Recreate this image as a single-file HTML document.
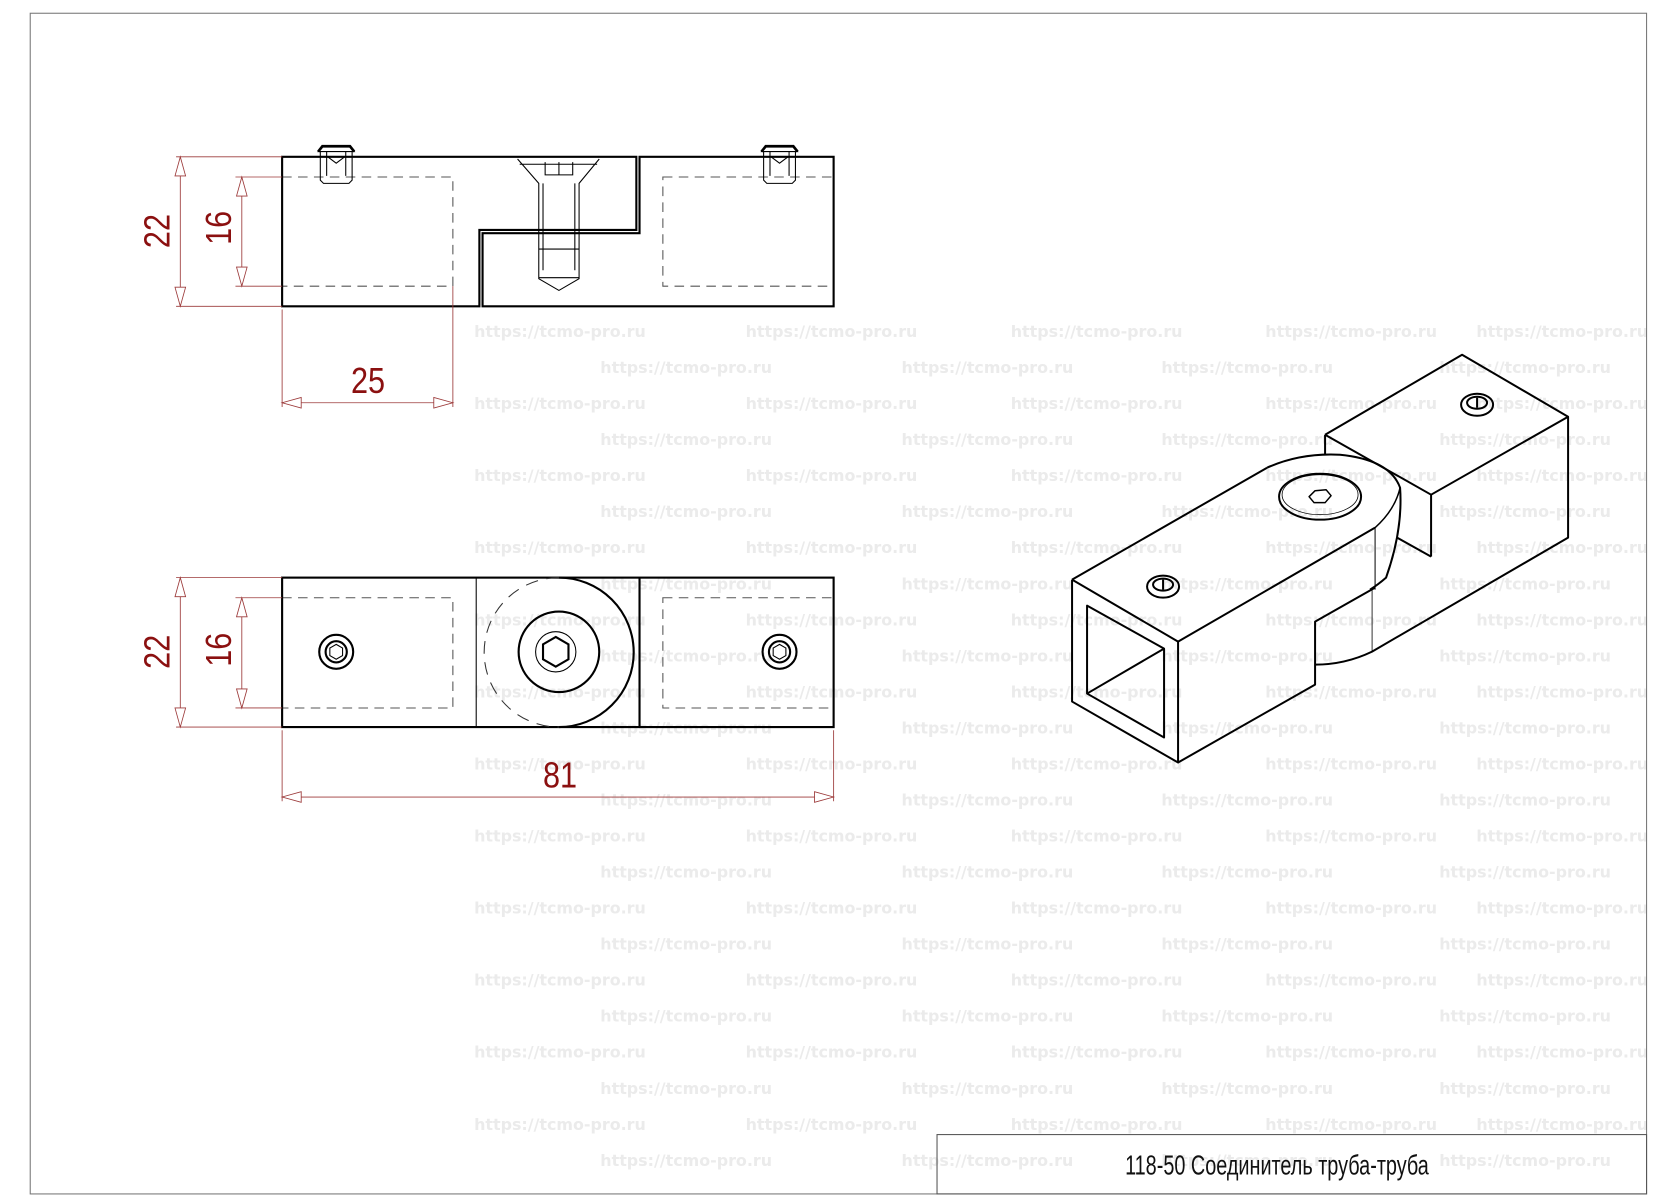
<!DOCTYPE html>
<html><head><meta charset="utf-8"><style>
html,body{margin:0;padding:0;background:#fff;}
svg{display:block;}
.wm{font-family:"DejaVu Sans","Liberation Sans",sans-serif;font-weight:bold;font-size:15px;fill:#ebebeb;}
.d{stroke:#9c3a3a;stroke-width:0.8;fill:none;}
.ah{stroke:#9c3a3a;stroke-width:0.8;fill:#fff;}
.dt{font-family:"Liberation Sans",sans-serif;font-size:34px;fill:#8b1010;}
.k{stroke:#000;stroke-width:2;fill:none;}
.t{stroke:#000;stroke-width:1;fill:none;}
.h{stroke:#555;stroke-width:1;fill:none;stroke-dasharray:9,6;}
</style></head><body>
<svg width="1663" height="1204" viewBox="0 0 1568 1136" preserveAspectRatio="none" xmlns="http://www.w3.org/2000/svg">
<rect x="0" y="0" width="1568" height="1136" fill="#fff"/>
<g class="wm">
<g id="r1">
<text x="447" y="318">https://tcmo-pro.ru</text><text x="703" y="318">https://tcmo-pro.ru</text><text x="953" y="318">https://tcmo-pro.ru</text><text x="1193" y="318">https://tcmo-pro.ru</text><text x="1392" y="318">https://tcmo-pro.ru</text>
<text x="566" y="352">https://tcmo-pro.ru</text><text x="850" y="352">https://tcmo-pro.ru</text><text x="1095" y="352">https://tcmo-pro.ru</text><text x="1357" y="352">https://tcmo-pro.ru</text>
</g>
<use href="#r1" y="68"/><use href="#r1" y="136"/><use href="#r1" y="204"/><use href="#r1" y="272"/><use href="#r1" y="340"/><use href="#r1" y="408"/><use href="#r1" y="476"/><use href="#r1" y="544"/><use href="#r1" y="612"/><use href="#r1" y="680"/><use href="#r1" y="748"/>
</g>
<rect x="28.5" y="12.5" width="1524" height="1114" fill="none" stroke="#777" stroke-width="1"/>
<rect x="883.5" y="1070.5" width="669" height="56" fill="none" stroke="#555" stroke-width="1"/>
<text x="1204" y="1108" text-anchor="middle" font-size="26" fill="#111" style="font-family:'Liberation Sans',sans-serif" transform="translate(1204,0) scale(0.72,1) translate(-1204,0)">118-50 Соединитель труба-труба</text>

<!-- TOP VIEW -->
<rect x="266" y="167" width="161" height="103" class="h"/>
<rect x="625" y="167" width="161" height="103" class="h"/>
<path class="k" d="M266,148 H600 V217 H452 V289 H266 Z"/>
<path class="k" d="M603,148 H786 V289 H455 V220 H603 Z"/>
<g class="t"><path d="M302,143 V170 L305,173 H329 L332,170 V143 M300,143 L304,138 H330 L334,143 Z M308,143 V166 M326,143 V166 M309,148 L317,154 L325,148"/></g>
<path d="M300,143 L304,138 H330 L334,143" stroke="#000" stroke-width="2.5" fill="none"/>
<g class="t"><path d="M720,143 V170 L723,173 H747 L750,170 V143 M718,143 L722,138 H748 L752,143 Z M726,143 V166 M744,143 V166 M727,148 L735,154 L743,148"/></g>
<path d="M718,143 L722,138 H748 L752,143" stroke="#000" stroke-width="2.5" fill="none"/>
<g class="t"><path d="M488,150 L508,173 V263 L527,274 L546,263 V173 L565,150 M490,155 H563 M514,153 V165 H540 V153 M527,153 V165 M512,173 V255 M542,173 V255 M508,235 H546 M508,262 H546"/></g>
<path class="d" d="M166,148 H266 M166,289 H266 M222,167 H266 M222,270 H266 M170,148 V289 M228,167 V270 M266,292 V384 M427,270 V384 M266,380 H427"/>
<path class="ah" d="M170,148 L165,166 L175,166 Z M170,289 L165,271 L175,271 Z M228,167 L223,185 L233,185 Z M228,270 L223,252 L233,252 Z M266,380 L284,375 L284,385 Z M427,380 L409,375 L409,385 Z"/>
<text class="dt" transform="translate(160,218) rotate(-90) scale(0.85,1)" text-anchor="middle">22</text>
<text class="dt" transform="translate(218,215) rotate(-90) scale(0.85,1)" text-anchor="middle">16</text>
<text class="dt" transform="translate(347,371) scale(0.85,1)" text-anchor="middle">25</text>

<!-- FRONT VIEW -->
<rect x="266" y="564" width="161" height="104" class="h"/>
<rect x="625" y="564" width="161" height="104" class="h"/>
<rect x="266" y="545" width="520" height="141" class="k"/>
<line x1="449" y1="545" x2="449" y2="686" class="t"/>
<line x1="603" y1="545" x2="603" y2="686" class="k"/>
<path class="k" d="M527,545 A70,70 0 0 1 527,686"/>
<path d="M527,545 A70,70 0 0 0 527,686" stroke="#333" stroke-width="1" fill="none" stroke-dasharray="12,8"/>
<circle cx="527" cy="615" r="38" class="k"/>
<circle cx="524" cy="615" r="19" class="t"/>
<polygon points="524,601 536,608 536,622 524,629 512,622 512,608" class="k" stroke-width="1.5"/>
<circle cx="317" cy="615" r="16" class="k"/><circle cx="317" cy="615" r="10" class="k"/>
<polygon points="317,608 323,611.5 323,618.5 317,622 311,618.5 311,611.5" class="t"/>
<circle cx="735" cy="615" r="16" class="k"/><circle cx="735" cy="615" r="10" class="k"/>
<polygon points="735,608 741,611.5 741,618.5 735,622 729,618.5 729,611.5" class="t"/>
<path class="d" d="M166,545 H266 M166,686 H266 M222,564 H266 M222,668 H266 M170,545 V686 M228,564 V668 M266,689 V756 M786,689 V756 M266,752 H786"/>
<path class="ah" d="M170,545 L165,563 L175,563 Z M170,686 L165,668 L175,668 Z M228,564 L223,582 L233,582 Z M228,668 L223,650 L233,650 Z M266,752 L284,747 L284,757 Z M786,752 L768,747 L768,757 Z"/>
<text class="dt" transform="translate(160,615) rotate(-90) scale(0.85,1)" text-anchor="middle">22</text>
<text class="dt" transform="translate(218,613) rotate(-90) scale(0.85,1)" text-anchor="middle">16</text>
<text class="dt" transform="translate(528,743) scale(0.85,1)" text-anchor="middle">81</text>

<!-- ISO -->
<g transform="scale(0.94293)" stroke="#000" stroke-width="2" fill="none" stroke-linejoin="round">
<path d="M1325,435 L1462,355 L1568,417 L1568,538 L1372,652 Q1345,665 1315,665"/>
<path d="M1325,435 V455 M1431,495 L1568,417 M1431,495 V557 M1325,435 L1431,495 M1431,557 L1397,538"/>
<path d="M1267,468 Q1300,453 1340,455 Q1390,460 1400,488 Q1403,530 1386,578 Q1378,585 1370,590"/>
<path d="M1375,528 Q1395,510 1400,488" stroke-width="1.5"/>
<line x1="1375" y1="528" x2="1375" y2="590" stroke-width="1"/>
<line x1="1372" y1="590" x2="1372" y2="652" stroke-width="0.8"/>
<path d="M1072,580 L1267,468 M1072,580 L1178,642 L1375,528 M1072,580 V702 L1178,763 V642 M1178,763 L1315,685 V622 L1375,588"/>
<path d="M1087,606 L1164,649 V738 L1087,694 Z M1087,694 L1164,649"/>
<ellipse cx="1320" cy="497" rx="41" ry="23"/>
<ellipse cx="1320" cy="495" rx="38" ry="20" stroke-width="0.8"/>
<polygon points="1309,497 1315,491 1326,490 1331,496 1325,503 1314,503" stroke-width="1.5"/>
<ellipse cx="1163" cy="587" rx="16" ry="11"/><ellipse cx="1163" cy="585" rx="10" ry="6"/>
<line x1="1163" y1="580" x2="1163" y2="590"/>
<ellipse cx="1477" cy="405" rx="16" ry="11"/><ellipse cx="1477" cy="403" rx="10" ry="6"/>
<line x1="1477" y1="398" x2="1477" y2="408"/>
</g>
</svg>
</body></html>
